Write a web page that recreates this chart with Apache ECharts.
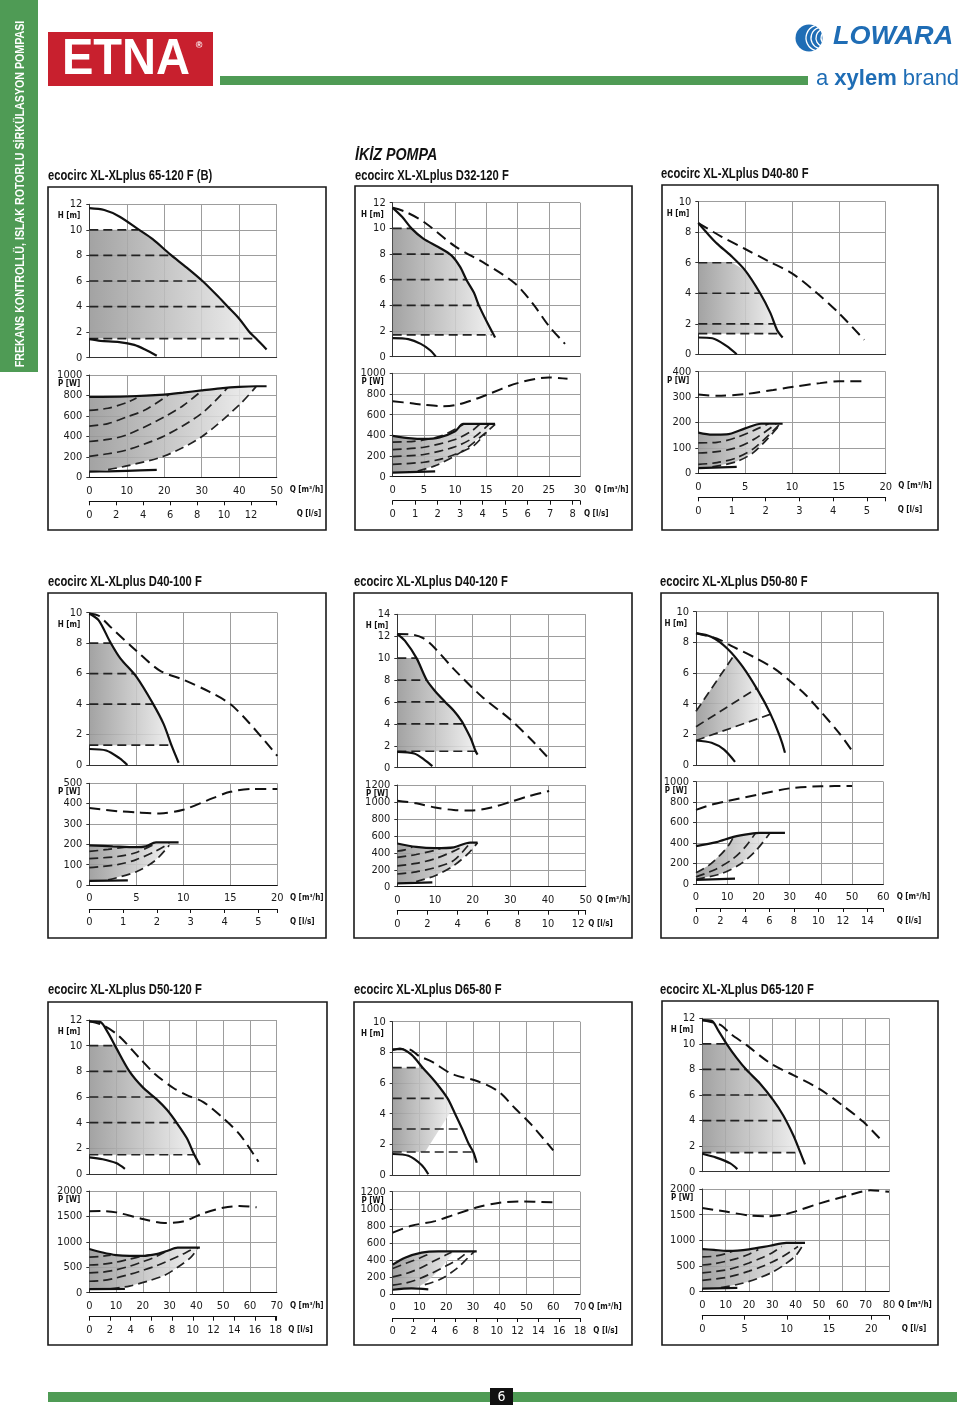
<!DOCTYPE html>
<html><head><meta charset="utf-8">
<script src="https://cdn.jsdelivr.net/npm/echarts@6/dist/echarts.min.js"></script>
<style>html,body{margin:0;padding:0;background:#fff}#c{width:960px;height:1407px}</style>
</head><body><div id="c"></div>
<script>
// ================= DATA =================
const titles = ['ecocirc XL-XLplus 65-120 F (B)','ecocirc XL-XLplus D32-120 F','ecocirc XL-XLplus D40-80 F',
  'ecocirc XL-XLplus D40-100 F','ecocirc XL-XLplus D40-120 F','ecocirc XL-XLplus D50-80 F',
  'ecocirc XL-XLplus D50-120 F','ecocirc XL-XLplus D65-80 F','ecocirc XL-XLplus D65-120 F'];
const qMax   = [50,30,20,20,50,60,70,70,80];
const qStep  = [10,5,5,5,10,10,10,10,10];
const lsMax  = [13.9,8.33,5.56,5.56,12.5,15.3,18.1,18,22.1];
const lsStep = [2,1,1,1,2,2,2,2,5];
const hTop   = [12,12,10,10,14,10,12,10,12];
const hStep  = [2,2,2,2,2,2,2,2,2];
const pTop   = [1000,1000,400,500,1200,1000,2000,1200,2000];
const pStep  = [200,200,100,100,200,200,500,200,500];

const hMaxCurve = [
 [[0,11.7],[4,11.55],[8,11.05],[13.3,10],[17,9.25],[21.5,8.1],[26,7.05],[30.2,6],[34,4.9],[36.9,4],[40,3.05],[42.6,2.05],[44.5,1.5],[47.3,0.65]],
 [[0,11.6],[1.5,10.9],[3,10],[4.9,9.2],[7.3,8.55],[9.4,7.9],[10.8,7.0],[11.8,6],[13,5],[13.8,4],[15.2,2.6],[16.4,1.5]],
 [[0,8.6],[1,7.9],[2,7.25],[3.5,6.45],[5,5.5],[6.6,4.0],[7.7,2.7],[8.4,1.6],[9,1.1]],
 [[0,9.95],[1,9.5],[2.2,8.1],[3.3,7.0],[5,5.8],[6.8,4.0],[7.9,2.7],[8.8,1.2],[9.5,0.15]],
 [[0,12.2],[2,11.6],[5.1,10],[7.8,8],[10,7],[12.7,6],[15,5.2],[17,4.3],[18.3,3.5],[19.6,2.6],[20.8,1.5],[21.3,1.2]],
 [[0,8.6],[5,8.35],[10,7.6],[15,6.4],[20,4.8],[23.7,3.4],[26.9,1.85],[28.5,0.8]],
 [[0,11.9],[4,11.85],[7,11.0],[10,9.85],[15,8.0],[20,6.75],[25,5.85],[29,5.0],[32.6,4.0],[36.4,2.8],[39,1.6],[41.3,0.7]],
 [[0,8.15],[2.7,8.25],[7,7.85],[11.2,7.0],[15.8,6.1],[20.5,5.0],[23.3,4.0],[26,3.0],[28.5,2.0],[30.1,1.5],[31.4,0.8]],
 [[0,11.85],[4,11.8],[7,11.0],[10.4,10.0],[14.7,8.9],[19,7.95],[24.7,6.9],[30.4,5.6],[34.7,4.4],[39,2.85],[41.9,1.55],[44,0.57]]
];
const hMinCurve = [
 [[0,1.45],[3,1.32],[8,1.22],[12,1.0],[15,0.62],[18,0.15]],
 [[0,1.45],[2.5,1.37],[4.5,1.0],[6,0.5],[6.9,0]],
 [[0,1.1],[1.5,1.05],[3,0.55],[4.1,0]],
 [[0,1.05],[1.8,0.95],[3.2,0.45],[4.05,0]],
 [[0,1.45],[4.5,1.3],[7.3,0.7],[9.3,0.15]],
 [[0,1.6],[5,1.45],[9,1.0],[12.5,0.2]],
 [[0,1.3],[5,1.15],[10,0.85],[13.3,0.4]],
 [[0,1.37],[5.9,1.25],[10.8,0.65],[13.3,0.05]],
 [[0,1.4],[6,1.1],[12,0.65],[15,0.2]]
];
const hTwinCurve = [
 null,
 [[0,11.6],[2,11.3],[5,10.5],[10,8.6],[15,7.2],[19.6,5.7],[22.5,4.1],[25,2.4],[27.6,1.0]],
 [[0,8.6],[2.5,7.7],[5,6.9],[7.5,6.1],[10,5.3],[12.5,4.1],[15,2.7],[17.7,0.95]],
 [[0,9.95],[1,9.8],[2.2,9.1],[5,7.5],[7.5,6.2],[10,5.6],[12.8,4.8],[15,4.0],[17.1,2.7],[20,0.6]],
 [[0,12.2],[4,12.15],[7,11.8],[10,10.9],[15,9.0],[22.4,6.5],[30,4.4],[35.7,2.5],[40.3,0.8]],
 [[0,8.6],[6.6,8.25],[12,7.7],[19.4,6.95],[25,6.3],[30,5.5],[35,4.6],[38.6,3.8],[46,2.05],[50.6,0.75]],
 [[0,11.9],[5,11.6],[10.8,10.8],[18.9,9.0],[24.5,7.8],[31.4,6.7],[36.4,6.15],[42.6,5.6],[50,4.35],[56.3,3.05],[63.2,0.95]],
 [[0,8.2],[5.9,8.2],[10,7.75],[14.6,7.4],[22,6.6],[32,6.1],[39.5,5.45],[45.7,4.35],[52,3.25],[60,1.6]],
 [[0,11.85],[7.6,11.5],[12,10.8],[19,9.9],[29,8.5],[39,7.55],[50,6.5],[60,5.2],[69,3.9],[76,2.6]]
];
const hDashLines = [
 [[[0,10],[13.0,10]],[[0,8],[21.5,8]],[[0,6],[30.2,6]],[[0,4],[36.9,4]],[[0,1.5],[44.5,1.5]]],
 [[[0,10],[3,10]],[[0,8],[9.1,8]],[[0,6],[11.8,6]],[[0,4],[13.8,4]],[[0,1.7],[15.85,1.7]]],
 [[[0,6],[3.6,6]],[[0,4],[6.6,4]],[[0,2],[8.2,2]],[[0,1.35],[8.55,1.35]]],
 [[[0,8],[2.25,8]],[[0,6],[4.8,6]],[[0,4],[6.8,4]],[[0,1.3],[8.75,1.3]]],
 [[[0,10],[5.1,10]],[[0,8],[7.8,8]],[[0,6],[12.7,6]],[[0,4],[17.5,4]],[[0,1.5],[20.8,1.5]]],
 [[[0,3.5],[12,7.1]],[[0,2.5],[19.5,5.0]],[[0,1.6],[23.7,3.3]]],
 [[[0,10],[9.7,10]],[[0,8],[15,8]],[[0,6],[24.2,6]],[[0,4],[32.6,4]],[[0,1.5],[39.2,1.5]]],
 [[[0,7],[11.2,7]],[[0,5],[20.5,5]],[[0,3],[26,3]],[[0,1.5],[30.1,1.5]]],
 [[[0,10],[10.4,10]],[[0,8],[19,8]],[[0,6],[28.6,6]],[[0,4],[35.7,4]],[[0,1.5],[41.9,1.5]]]
];
const hShade = [
 [[0,10],[13.3,10],[17,9.25],[21.5,8.1],[26,7.05],[30.2,6],[34,4.9],[36.9,4],[40,3.05],[42.6,2.05],[44.5,1.5],[0,1.5]],
 [[0,10],[3,10],[4.9,9.2],[7.3,8.55],[9.4,7.9],[10.8,7.0],[11.8,6],[13,5],[13.8,4],[15.2,2.6],[15.85,1.7],[0,1.7]],
 [[0,6],[3.6,6],[5,5.5],[6.6,4.0],[7.7,2.7],[8.2,2.0],[8.55,1.35],[0,1.35]],
 [[0,8],[2.25,8],[3.3,7.0],[5,5.8],[6.8,4.0],[7.9,2.7],[8.75,1.3],[0,1.3]],
 [[0,10],[5.1,10],[7.8,8],[10,7],[12.7,6],[15,5.2],[17,4.3],[18.3,3.5],[19.6,2.6],[20.8,1.5],[0,1.5]],
 [[0,3.5],[12,7.1],[15,6.4],[18,5.5],[20.5,4.65],[20.9,3.7],[20.5,3.05],[0,1.6]],
 [[0,10],[9.7,10],[15,8.0],[20,6.75],[25,5.85],[29,5.0],[32.6,4.0],[36.4,2.8],[39.2,1.5],[0,1.5]],
 [[0,7],[11.2,7],[15.8,6.1],[20.5,5.0],[22.3,4.3],[12.1,1.5],[0,1.5]],
 [[0,10],[10.4,10],[14.7,8.9],[19,7.95],[24.7,6.9],[30.4,5.6],[34.7,4.4],[39,2.85],[41.9,1.5],[0,1.5]]
];
const pMaxCurve = [
 [[0,785],[10,790],[20,808],[25,828],[30,850],[35,870],[40,884],[44.5,890],[47.3,890]],
 [[0,395],[3,370],[5,365],[7.5,380],[10,440],[11.3,510],[16.4,510]],
 [[0,160],[1.5,152],[3,153],[5,177],[6.7,195],[9,195]],
 [[0,195],[2.5,190],[5,186],[6,190],[7.1,210],[9.5,210]],
 [[0,510],[5,470],[10,455],[15,465],[19.3,520],[21.3,520]],
 [[0,370],[6.6,410],[12,460],[17.3,490],[20.5,500],[28.5,500]],
 [[0,860],[5,790],[10,740],[15,725],[20,725],[25,760],[29,820],[33,885],[41.3,885]],
 [[0,345],[4.6,425],[10.8,485],[17,500],[31.4,500]],
 [[0,830],[5,815],[10.4,795],[15,800],[20,825],[29,895],[36,950],[44,950]]
];
const pMinCurve = [
 [[0,55],[5,58],[10,63],[18,72]],
 [[0,40],[6.8,52]],
 [[0,20],[4.1,25]],
 [[0,20],[4.1,23]],
 [[0,40],[9.3,50]],
 [[0,40],[12.5,52]],
 [[0,70],[13.3,75]],
 [[0,50],[7,65],[13.3,55]],
 [[0,60],[15,75]]
];
const pTwinCurve = [
 null,
 [[0,730],[3,710],[5,695],[8,682],[10,692],[12.5,735],[15,790],[20,905],[25,960],[28,948]],
 [[0,310],[2,305],[5,312],[8,328],[10,340],[13,355],[15,362],[17.8,362]],
 [[0,378],[3,363],[5,357],[7.5,352],[10,370],[12.5,415],[15,458],[17.5,472],[20,472]],
 [[0,1015],[5,985],[10,935],[15,905],[20,900],[25,935],[30,1000],[35,1070],[40.3,1130]],
 [[0,725],[5,775],[10,810],[20,875],[30,935],[40,955],[50,958]],
 [[0,1600],[5,1605],[10,1580],[20,1450],[28,1370],[35,1400],[42.6,1560],[50,1670],[56,1705],[62.5,1680]],
 [[0,720],[7,800],[15.8,855],[23,930],[32,1020],[40,1070],[47,1085],[60,1075]],
 [[0,1630],[10,1560],[20,1485],[27.6,1470],[35,1505],[40,1565],[50,1715],[63,1880],[72,1975],[80,1945]]
];
const pDashCurves = [
 [[[0,655],[5,675],[10,730],[12.6,775]],
  [[0,500],[5,525],[10,590],[15,660],[21.5,815]],
  [[0,350],[5,370],[10,414],[20,590],[25,700],[30.2,852]],
  [[0,205],[5,230],[10,267],[20,404],[30,625],[36.9,876]],
  [[5,75],[10,111],[20,208],[30,397],[40,707],[44.5,886]]],
 [[[0,335],[3,340],[5,355],[8,400],[11.3,505]],
  [[0,262],[5,285],[10,360],[12.6,440],[14,510]],
  [[0,195],[5,215],[10,290],[13,380],[15.5,510]],
  [[0,120],[5,140],[8,175],[11,240],[13,300],[15,430]],
  [[4,55],[7,110],[11,240],[14.8,420],[16.4,505]]],
 [[[0,120],[2,122],[4,140],[6,170],[7.5,195]],
  [[0,80],[2,85],[4,100],[6,135],[8.3,195]],
  [[0,35],[2,42],[4,60],[6,100],[8.6,190]],
  [[1.5,25],[4,45],[6,85],[8.7,190]]],
 [[[0,165],[2,175],[4,187]],
  [[0,130],[3,140],[5,160],[7.1,205]],
  [[0,85],[3,100],[5,125],[7,165],[8.5,205]],
  [[2,25],[5,65],[7,120],[8.5,195]]],
 [[[0,420],[2,435],[4,470]],
  [[0,345],[5,380],[10,430],[12,460]],
  [[0,245],[5,275],[10,330],[15,420],[17,465]],
  [[0,150],[5,175],[10,225],[15,310],[19.3,515]],
  [[5,60],[10,130],[15,250],[19,400],[21.3,520]]],
 [[[0,110],[4,180],[8,290],[10.5,380],[12,460]],
  [[0,70],[6,140],[12,250],[16,370],[19,495]],
  [[0,45],[8,100],[14,190],[19,320],[23.7,498]]],
 [[[0,700],[4,710],[8,740]],
  [[0,545],[5,560],[10,600],[15,660],[20,720],[23,745]],
  [[0,390],[5,405],[10,450],[15,520],[20,610],[25,710],[29,820]],
  [[0,225],[5,240],[10,290],[15,360],[20,440],[25,530],[30,640],[35,760],[39.5,885]],
  [[8,75],[15,130],[22,230],[28,340],[33,500],[38,700],[40.5,880]]],
 [[[0,300],[5,360],[10,420],[13,460]],
  [[0,200],[5,240],[10,300],[15,380],[20,460],[22,490]],
  [[0,105],[5,130],[10,180],[15,250],[20,330],[25,420],[28,495]],
  [[12,110],[18,175],[24,300],[28,420],[30.5,500]]],
 [[[0,680],[5,690],[10,740],[13,790]],
  [[0,520],[5,545],[10,590],[15,650],[20,730],[24,820]],
  [[0,365],[10,420],[15,480],[20,560],[25,650],[30,760],[34,880]],
  [[0,220],[10,275],[15,330],[20,400],[25,480],[30,580],[35,700],[41,880]],
  [[8,80],[15,140],[20,200],[25,280],[30,380],[35,520],[40,700],[43,900]]]
];
const pShade = [
 [[0,785],[10,790],[20,808],[25,828],[30,850],[35,870],[40,884],[44.5,888],[40,707],[30,397],[20,208],[10,111],[5,75],[0,55]],
 [[0,395],[3,370],[5,365],[7.5,380],[10,440],[11.3,510],[16.4,510],[14.8,420],[11,240],[7,110],[4,55],[0,40]],
 [[0,160],[1.5,152],[3,153],[5,177],[6.7,195],[9,195],[8.7,190],[6,85],[4,45],[1.5,25],[0,20]],
 [[0,195],[2.5,190],[5,186],[6,190],[7.1,210],[8.5,210],[8.5,195],[7,120],[5,65],[2,25],[0,20]],
 [[0,510],[5,470],[10,455],[15,465],[19.3,520],[21.3,520],[19,400],[15,250],[10,130],[5,60],[0,40]],
 [[0,110],[4,180],[8,290],[10.5,380],[12,460],[17.3,490],[20.5,500],[23.7,498],[19,320],[14,190],[8,100],[0,45]],
 [[0,860],[5,790],[10,740],[15,725],[20,725],[25,760],[29,820],[33,885],[40.5,885],[38,700],[33,500],[28,340],[22,230],[15,130],[8,75],[0,70]],
 [[0,345],[4.6,425],[10.8,485],[17,500],[23,500],[18,300],[13,150],[10,90],[7,65],[0,50]],
 [[0,830],[5,815],[10.4,795],[15,800],[20,825],[29,895],[36,950],[43,950],[40,700],[35,520],[30,380],[25,280],[20,200],[15,140],[8,80],[0,60]]
];

// ================= LAYOUT =================
const frames = [[48,187,278,343],[355,186,277,344],[662,185,276,345],[48,593,278,345],[354,593,278,345],[661,593,277,345],[48,1002,279,343],[354,1002,278,343],[662,1001,276,344]];
const hGridRect = [[89.3,204.3,187.4,153.4],[392.7,202.7,187.3,154],[698.3,201.7,187.4,152.6],[89.3,612.7,188,152.3],[397.3,614.3,188.4,153.4],[696,611.7,187.3,153.3],[89.3,1020,187.4,154],[392.7,1021.7,187.3,153.3],[702.3,1018.3,186.7,153.4]];
const pGridRect = [[375,102.3],[373.3,103.4],[371.7,101.6],[783.3,101.7],[785,101.7],[781.7,102.3],[1191,101.7],[1191.7,102.3],[1189,102.7]];
const titlePos = [[48,176],[355,176],[661,174],[48,582],[354,582],[660,582],[48,990],[354,990],[660,990]];
const gapQ = [13,15,12.6,12.7,11,13.4,13.3,8.3,9.3];
const gapL = [20,4,12,12.7,2.6,13.4,11.6,13.3,12.7];

const NARROW = "'Liberation Sans Narrow','DejaVu Sans Condensed','Arial Narrow',sans-serif";
const SANS = "'Liberation Sans',Arial,sans-serif";
const GRID_C = '#9d9d9d';
const GREEN = '#4f9b55';
const BLUE = '#1f6db5';

const chart = echarts.init(document.getElementById('c'), null, {renderer:'canvas', width:960, height:1407});
const grids=[], xAxes=[], yAxes=[], series=[];
const lblStyle = {fontFamily:NARROW, fontSize:11, color:'#1a1a1a'};
const plainFmt = v => String(v);

function stepFmt(step){ return v => (Math.abs(v/step - Math.round(v/step)) < 1e-6 ? String(Math.round(v*100)/100) : ''); }
function addLine(xi, yi, data, kind){
  if(!data) return;
  const ls = kind==='solid' ? {color:'#111', width:2.2, type:'solid'}
           : kind==='twin' ? {color:'#111', width:2, type:[11,6]}
           : {color:'#222', width:1.7, type:[9,5]};
  series.push({type:'line', xAxisIndex:xi, yAxisIndex:yi, data:data, showSymbol:false, symbol:'none',
    smooth: data.length>2 ? 0.3 : false, lineStyle:ls, z:3, silent:true, clip:false});
}
function addShade(xi, yi, poly){
  series.push({type:'custom', xAxisIndex:xi, yAxisIndex:yi, data:poly, silent:true, z:1,
    renderItem:(params, api)=>{
      if(params.dataIndex!==0) return null;
      const pts = poly.map(p=>api.coord(p));
      return {type:'polygon', shape:{points:pts}, style:{fill:new echarts.graphic.LinearGradient(0,0,1,0,[
        {offset:0,color:'rgba(150,150,150,0.88)'},{offset:1,color:'rgba(238,238,238,0.88)'}])}};
    }});
}

for(let i=0;i<9;i++){
  const [gl, ht, gw, hh] = hGridRect[i];
  const [pt, ph] = pGridRect[i];
  const hg = grids.length; grids.push({left:gl, top:ht, width:gw, height:hh, outerBoundsMode:'none', containLabel:false});
  const pg = grids.length; grids.push({left:gl, top:pt, width:gw, height:ph, outerBoundsMode:'none', containLabel:false});
  const baseX = {type:'value', min:0, max:qMax[i], interval:qStep[i], nameMoveOverlap:false,
    splitLine:{show:true, lineStyle:{color:GRID_C, width:1}}};
  const hx = xAxes.length; xAxes.push(Object.assign({}, baseX, {gridIndex:hg,
    axisLabel:{show:false}, axisTick:{show:false}, axisLine:{show:true, lineStyle:{color:'#333', width:1}}}));
  const px = xAxes.length; xAxes.push(Object.assign({}, baseX, {gridIndex:pg,
    axisLabel:Object.assign({margin:8, formatter:plainFmt}, lblStyle), axisTick:{show:false},
    axisLine:{show:true, lineStyle:{color:'#111', width:1.2}},
    name:'Q [m³/h]', nameLocation:'end', nameGap:gapQ[i],
    nameTextStyle:{fontFamily:NARROW, fontSize:8, fontWeight:'bold', color:'#111', align:'left', verticalAlign:'top', padding:[9,0,0,0]}}));
  xAxes.push({type:'value', gridIndex:pg, position:'bottom', offset:24, min:0, max:lsMax[i], interval:lsStep[i], nameMoveOverlap:false,
    splitLine:{show:false}, axisLine:{show:true, onZero:false, lineStyle:{color:'#111', width:1}},
    axisTick:{show:true, length:4, lineStyle:{color:'#111'}},
    axisLabel:Object.assign({margin:8, formatter:stepFmt(lsStep[i])}, lblStyle),
    name:'Q [l/s]', nameLocation:'end', nameGap:gapL[i],
    nameTextStyle:{fontFamily:NARROW, fontSize:8, fontWeight:'bold', color:'#111', align:'left', verticalAlign:'top', padding:[9,0,0,0]}});
  const hy = yAxes.length; yAxes.push({type:'value', gridIndex:hg, min:0, max:hTop[i], interval:hStep[i], nameMoveOverlap:false,
    splitLine:{show:true, lineStyle:{color:GRID_C, width:1}},
    axisLine:{show:true, lineStyle:{color:'#333', width:1}}, axisTick:{show:true, length:3, lineStyle:{color:'#333'}},
    axisLabel:Object.assign({margin:7, formatter:plainFmt}, lblStyle),
    name:'H [m]', nameLocation:'end', nameGap:-12,
    nameTextStyle:{fontFamily:NARROW, fontSize:8, fontWeight:'bold', color:'#111', align:'right', verticalAlign:'middle', padding:[0,9,0,0]}});
  const py = yAxes.length; yAxes.push({type:'value', gridIndex:pg, min:0, max:pTop[i], interval:pStep[i], nameMoveOverlap:false,
    splitLine:{show:true, lineStyle:{color:GRID_C, width:1}},
    axisLine:{show:true, lineStyle:{color:'#333', width:1}}, axisTick:{show:true, length:3, lineStyle:{color:'#333'}},
    axisLabel:Object.assign({margin:7, formatter:plainFmt}, lblStyle),
    name:'P [W]', nameLocation:'end', nameGap:-9,
    nameTextStyle:{fontFamily:NARROW, fontSize:8, fontWeight:'bold', color:'#111', align:'right', verticalAlign:'middle', padding:[0,9,0,0]}});

  addShade(hx, hy, hShade[i]);
  addShade(px, py, pShade[i]);
  hDashLines[i].forEach(s=>addLine(hx, hy, s, 'dash'));
  addLine(hx, hy, hMaxCurve[i], 'solid');
  addLine(hx, hy, hMinCurve[i], 'solid');
  addLine(hx, hy, hTwinCurve[i], 'twin');
  pDashCurves[i].forEach(s=>addLine(px, py, s, 'dash'));
  addLine(px, py, pMaxCurve[i], 'solid');
  addLine(px, py, pMinCurve[i], 'solid');
  addLine(px, py, pTwinCurve[i], 'twin');
}

// ================= GRAPHICS (page furniture) =================
const graphic = [];
// sidebar
graphic.push({type:'rect', shape:{x:0,y:0,width:38,height:372}, style:{fill:GREEN}, silent:true});
graphic.push({type:'text', x:20, y:194, rotation:Math.PI/2, scaleX:0.82, silent:true,
  style:{text:'FREKANS KONTROLLÜ, ISLAK ROTORLU SİRKÜLASYON POMPASI', font:'bold 13px '+SANS, fill:'#fff', align:'center', verticalAlign:'middle'}});
// ETNA logo
graphic.push({type:'rect', shape:{x:48,y:32,width:165,height:54}, style:{fill:'#c8202e'}, silent:true});
graphic.push({type:'text', x:126, y:60, scaleX:0.98, scaleY:1.05, silent:true, style:{text:'ETNA', font:'bold 48px '+SANS, fill:'#fff', align:'center', verticalAlign:'middle'}});
graphic.push({type:'text', x:199, y:46, silent:true, style:{text:'®', font:'bold 9px '+SANS, fill:'#fff', align:'center', verticalAlign:'middle'}});
// green header line
graphic.push({type:'rect', shape:{x:220,y:76,width:588,height:9}, style:{fill:GREEN}, silent:true});
// Lowara logo
graphic.push({type:'circle', shape:{cx:809,cy:38,r:13.5}, style:{fill:BLUE}, silent:true});
[[819,38,13],[822,38,11],[825,38,9],[828,38,7]].forEach(a=>{
  graphic.push({type:'arc', shape:{cx:a[0],cy:a[1],r:a[2],startAngle:Math.PI*0.6,endAngle:Math.PI*1.4}, style:{stroke:'#fff', lineWidth:1.3, fill:null}, silent:true});
});
graphic.push({type:'text', x:833, y:37, scaleX:1.04, silent:true, style:{text:'LOWARA', font:'italic bold 26px '+SANS, fill:BLUE, align:'left', verticalAlign:'middle'}});
graphic.push({type:'text', x:816, y:79, silent:true, style:{text:'{a|a }{b|xylem}{a| brand}', align:'left', verticalAlign:'middle',
  rich:{a:{font:'22px '+SANS, fill:BLUE}, b:{font:'bold 22px '+SANS, fill:BLUE}}}});
// İKİZ POMPA
graphic.push({type:'text', x:355, y:155, scaleX:0.84, silent:true, style:{text:'İKİZ POMPA', font:'italic bold 17px '+SANS, fill:'#111', align:'left', verticalAlign:'middle'}});
// frames & titles
frames.forEach((f,i)=>{
  graphic.push({type:'rect', shape:{x:f[0],y:f[1],width:f[2],height:f[3]}, style:{fill:null, stroke:'#1a1a1a', lineWidth:1.6}, silent:true});
  graphic.push({type:'text', x:titlePos[i][0], y:titlePos[i][1], scaleX:0.8, silent:true,
    style:{text:titles[i], font:'bold 14px '+SANS, fill:'#111', align:'left', verticalAlign:'middle'}});
});
// footer
graphic.push({type:'rect', shape:{x:48,y:1392,width:909,height:10}, style:{fill:GREEN}, silent:true});
graphic.push({type:'rect', shape:{x:490,y:1388,width:23,height:17}, style:{fill:'#111'}, silent:true});
graphic.push({type:'text', x:501.5, y:1397, silent:true, style:{text:'6', font:'14px '+NARROW, fill:'#fff', align:'center', verticalAlign:'middle'}});

chart.setOption({
  animation:false,
  backgroundColor:'#fff',
  textStyle:{fontFamily:NARROW},
  grid:grids, xAxis:xAxes, yAxis:yAxes, series:series, graphic:graphic
});
</script></body></html>
